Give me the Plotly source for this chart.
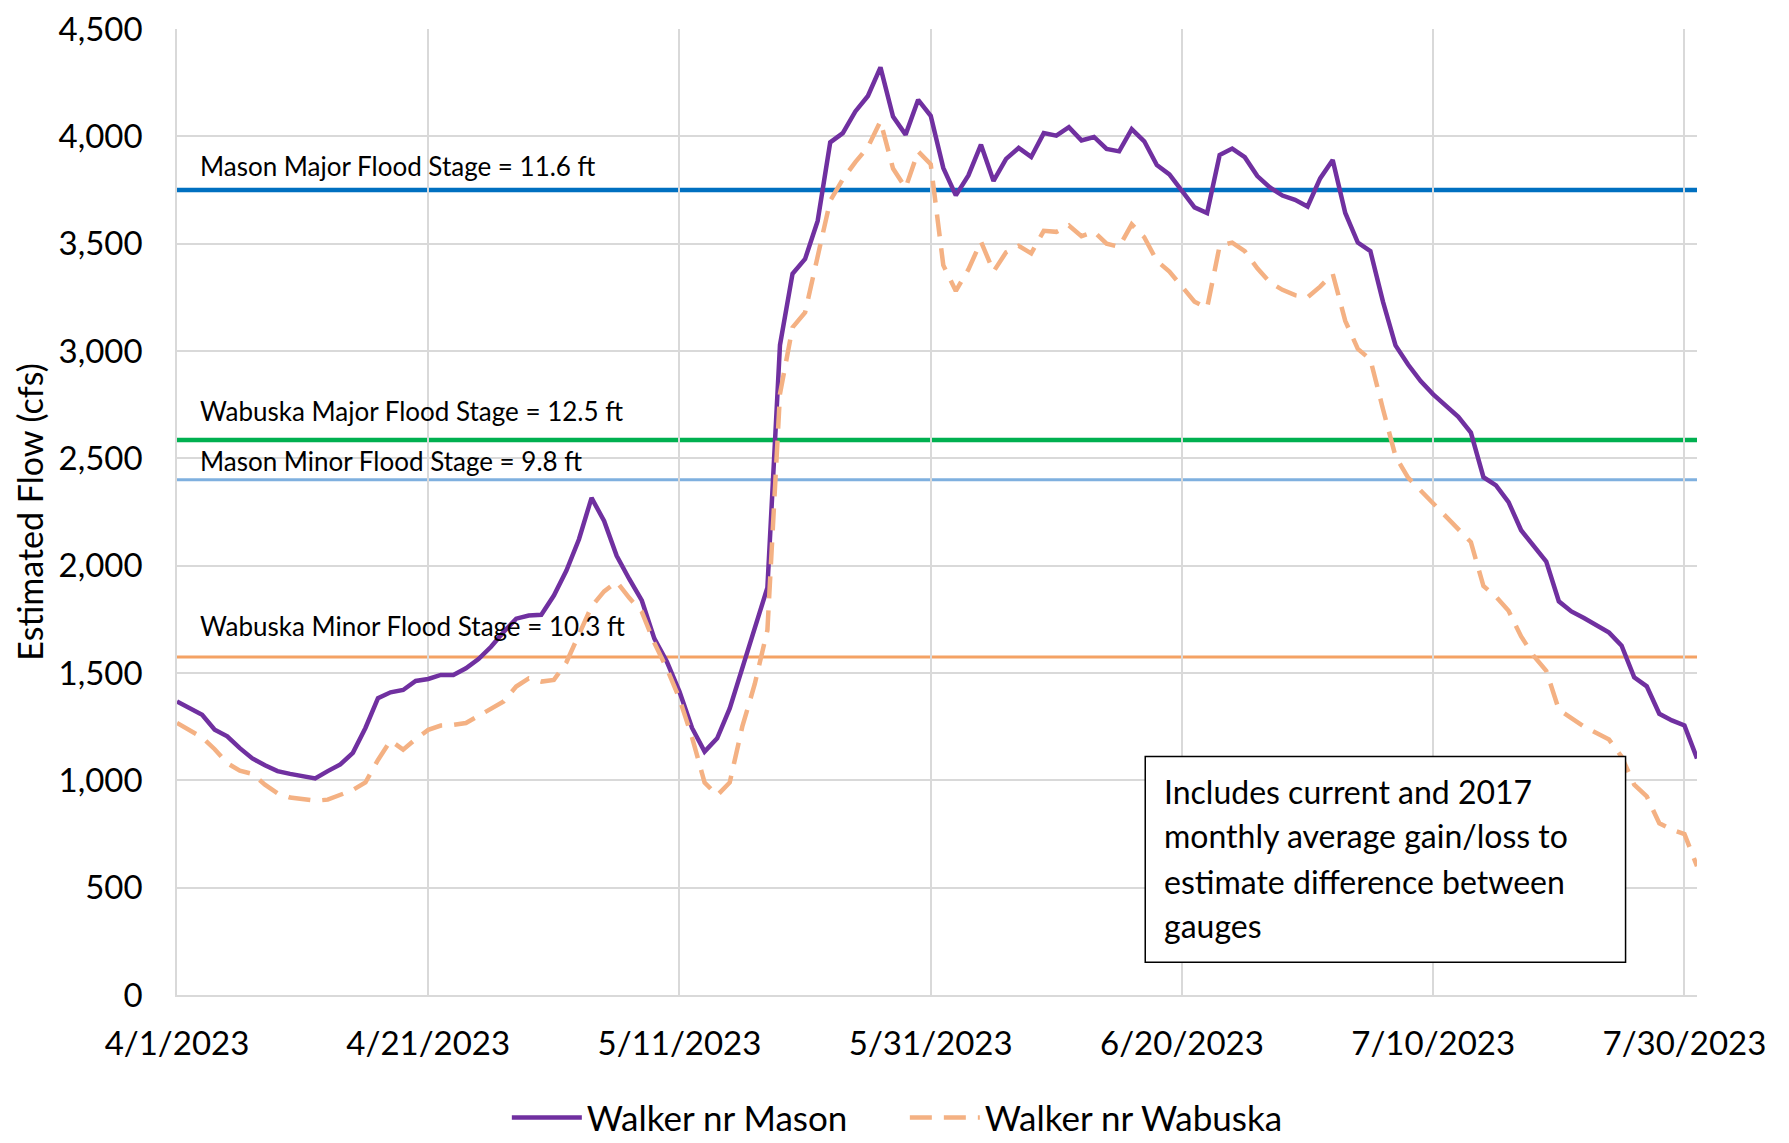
import pandas as pd
import plotly.graph_objects as go

start_date = "2023-04-01"
n_days = 122

mason = [1367, 1335, 1305, 1236, 1205, 1150, 1102, 1070, 1043, 1030,
         1020, 1009, 1043, 1074, 1128, 1244, 1383, 1410, 1421, 1463,
         1472, 1491, 1491, 1522, 1565, 1622, 1691, 1753, 1768, 1771,
         1861, 1977, 2123, 2316, 2208, 2046, 1938, 1838, 1660, 1552,
         1413, 1244, 1134, 1196, 1335, 1520, 1721, 1898, 3028, 3360,
         3429, 3606, 3972, 4015, 4116, 4188, 4321, 4092, 4008, 4170,
         4096, 3853, 3725, 3818, 3961, 3792, 3895, 3946, 3904, 4015,
         4003, 4043, 3981, 3997, 3941, 3930, 4034, 3977, 3866, 3823,
         3746, 3669, 3643, 3913, 3943, 3903, 3815, 3762, 3724, 3704,
         3673, 3804, 3890, 3643, 3505, 3465, 3230, 3026, 2937, 2860,
         2798, 2744, 2693, 2620, 2412, 2374, 2296, 2165, 2096, 2019,
         1834, 1787, 1756, 1722, 1688, 1627, 1480, 1438, 1310, 1279,
         1256, 1102]

wabuska = [1267, 1235, 1200, 1145, 1080, 1045, 1030, 980, 940, 920,
           912, 905, 910, 930, 955, 990, 1095, 1185, 1143, 1192,
           1235, 1255, 1258, 1267, 1300, 1330, 1367, 1437, 1475, 1460,
           1468, 1550, 1680, 1810, 1880, 1925, 1850, 1785, 1640, 1520,
           1380, 1200, 990, 930, 990, 1250, 1450, 1700, 2800, 3110,
           3180, 3450, 3700, 3800, 3880, 3950, 4070, 3850, 3760, 3930,
           3870, 3400, 3280, 3380, 3510, 3370, 3460, 3490, 3455, 3560,
           3555, 3585, 3535, 3555, 3500, 3485, 3590, 3530, 3420, 3370,
           3300, 3230, 3200, 3490, 3505, 3465, 3385, 3320, 3285, 3260,
           3250, 3300, 3360, 3140, 3010, 2960, 2730, 2510, 2410, 2350,
           2285, 2230, 2170, 2110, 1905, 1855, 1790, 1670, 1580, 1510,
           1330, 1290, 1250, 1220, 1190, 1110, 980, 925, 800, 770,
           750, 600]

tick_dates = ["2023-04-01", "2023-04-21", "2023-05-11", "2023-05-31",
              "2023-06-20", "2023-07-10", "2023-07-30"]
tick_labels = ["4/1/2023", "4/21/2023", "5/11/2023", "5/31/2023",
               "6/20/2023", "7/10/2023", "7/30/2023"]

y_ticks = [0, 500, 1000, 1500, 2000, 2500, 3000, 3500, 4000, 4500]

flood_names = ["Mason Major Flood Stage = 11.6 ft",
               "Wabuska Major Flood Stage = 12.5 ft",
               "Mason Minor Flood Stage = 9.8 ft",
               "Wabuska Minor Flood Stage = 10.3 ft"]
flood_values = [3750, 2585, 2400, 1575]
flood_colors = ["#0070C0", "#00B050", "#7FB0DF", "#F4A264"]
flood_widths = [4.5, 4.5, 3, 3]
flood_label_shift = [6, 11, 1, 13]

note_lines = ["Includes current and 2017",
              "monthly average gain/loss to",
              "estimate difference between",
              "gauges"]

dates = pd.date_range(start_date, periods=n_days, freq="D")

FONT = "Lato"

fig = go.Figure()

for name, val, col, w, sh in zip(flood_names, flood_values, flood_colors,
                                 flood_widths, flood_label_shift):
    fig.add_shape(type="line", xref="paper", x0=0, x1=1, yref="y", y0=val, y1=val,
                  line=dict(color=col, width=w), layer="below")
    fig.add_annotation(xref="paper", x=0.0135, yref="y", y=val, text=name,
                       showarrow=False, xanchor="left", yanchor="bottom", yshift=sh,
                       font=dict(family=FONT, size=26, color="#000000"))

fig.add_trace(go.Scatter(x=dates, y=mason, mode="lines", name="Walker nr Mason",
                         line=dict(color="#7030A0", width=4.5)))
fig.add_trace(go.Scatter(x=dates, y=wabuska, mode="lines", name="Walker nr Wabuska",
                         line=dict(color="#F4B183", width=4.5, dash="22px,12px")))

fig.add_shape(type="rect", xref="paper", yref="paper", x0=0.637, x1=0.953,
              y0=0.034, y1=0.247, line=dict(color="#000000", width=1.5),
              fillcolor="#FFFFFF", layer="above")
note_y = [0.211, 0.165, 0.118, 0.072]
for txt, yy in zip(note_lines, note_y):
    fig.add_annotation(xref="paper", yref="paper", x=0.648, y=yy, text=txt,
                       showarrow=False, xanchor="left", yanchor="middle", align="left",
                       font=dict(family=FONT, size=32, color="#000000"))

fig.update_layout(
    width=1781, height=1135,
    margin=dict(l=169, r=92, t=21, b=148, autoexpand=False),
    paper_bgcolor="#FFFFFF", plot_bgcolor="#FFFFFF",
    font=dict(family=FONT, size=32, color="#000000"),
    showlegend=True,
    legend=dict(orientation="h", x=0.217, xanchor="left", y=-0.127, yanchor="middle",
                font=dict(family=FONT, size=35), itemwidth=70, traceorder="normal",
                entrywidth=313, entrywidthmode="pixels"),
)
fig.update_xaxes(type="date", range=["2023-04-01", "2023-07-31"],
                 tickvals=tick_dates, ticktext=tick_labels, automargin=False,
                 ticklabeloverflow="allow",
                 showgrid=True, gridcolor="#D9D9D9", gridwidth=1.5,
                 showline=True, linecolor="#D9D9D9", linewidth=1.5,
                 ticks="outside", ticklen=19, tickcolor="rgba(0,0,0,0)",
                 tickfont=dict(family=FONT, size=33), zeroline=False)
fig.update_yaxes(range=[0, 4500], tickvals=y_ticks, tickformat=",d", automargin=False,
                 ticklabeloverflow="allow",
                 showgrid=True, gridcolor="#D9D9D9", gridwidth=1.5,
                 showline=True, linecolor="#D9D9D9", linewidth=1.5,
                 ticks="outside", ticklen=26, tickcolor="rgba(0,0,0,0)",
                 tickfont=dict(family=FONT, size=33), zeroline=False,
                 title=dict(text="Estimated Flow (cfs)", standoff=5,
                            font=dict(family=FONT, size=34)))

fig.write_html("out.html")
